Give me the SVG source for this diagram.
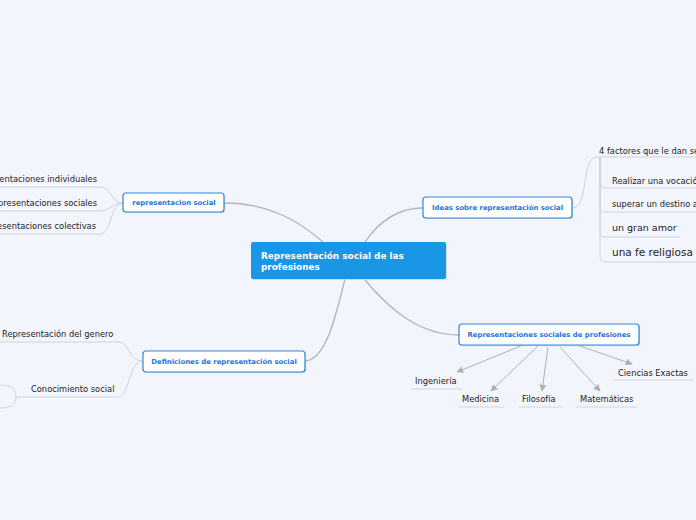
<svg xmlns="http://www.w3.org/2000/svg" width="696" height="520" viewBox="0 0 696 520">
<style>
.bg{fill:#f3f5fd}
.box{fill:#ffffff;stroke:#2f86e0;stroke-width:1.2}
.sh{fill:#9aa3b5;opacity:0.45}
.bt{font-family:"DejaVu Sans",Verdana,sans-serif;font-weight:bold;font-size:6.9px;fill:#1a74dc;text-anchor:middle}
.ct{font-family:"DejaVu Sans",Verdana,sans-serif;font-weight:bold;font-size:8.9px;fill:#ffffff}
.lt{font-family:"DejaVu Sans",Verdana,sans-serif;font-size:8.3px;fill:#222}
.ul{stroke:#d2d5de;stroke-width:1;fill:none}
.cn{stroke:#b3b3b3;stroke-width:1.3;fill:none}
.sc{stroke:#cfd2da;stroke-width:1;fill:none}
.ar{stroke:#b0b0b0;stroke-width:1;fill:none;marker-end:url(#ah)}
</style>
<defs>
<marker id="ah" viewBox="0 0 10 10" refX="9" refY="5" markerWidth="7" markerHeight="7" orient="auto" markerUnits="userSpaceOnUse">
<path d="M0,0 L10,5 L0,10 z" fill="#b0b0b0"/>
</marker>
</defs>
<rect class="bg" x="0" y="0" width="696" height="520"/>

<g id="connectors">
<path class="cn" d="M224,203 C270,203 300,222 323,242"/>
<path class="cn" d="M423,208 C400,208 380,220 365,242"/>
<path class="cn" d="M305,361 C325,360 335,320 345,279"/>
<path class="cn" d="M365,280 C390,310 420,335 459,335"/>
<path class="sc" d="M123,203 C110,203 112,187 100,187 L0,187"/>
<path class="sc" d="M123,203 C112,203 110,211 100,211 L0,211"/>
<path class="sc" d="M123,203 C110,203 112,234 100,234 L0,234"/>
<path class="sc" d="M143,361 C128,361 130,342 118,342 L0,342"/>
<path class="sc" d="M143,361 C128,361 130,397 118,397 L16,397"/>
<path class="sc" d="M16,397 C16,388 10,385 0,385"/>
<path class="sc" d="M16,397 C16,405 10,408 0,408"/>
<path class="sc" d="M572,208 C590,208 580,157 597,157 L696,157"/>
<path class="sc" d="M600,157 L600,182 C600,186 602,188 606,188 L696,188"/>
<path class="sc" d="M600,157 L600,207 C600,210 602,212 606,212 L696,212"/>
<path class="sc" d="M600,157 L600,232 C600,235 602,237 606,237 L680,237"/>
<path class="sc" d="M600,157 L600,256 C600,260 602,262 606,262 L696,262"/>
<path class="ar" d="M523,345 L457,372"/>
<path class="ar" d="M538,346 L491,391"/>
<path class="ar" d="M548,347 L542,391"/>
<path class="ar" d="M560,347 L600,391"/>
<path class="ar" d="M580,346 L632,364"/>
<path class="ul" d="M411,389 L462,389"/>
<path class="ul" d="M459,407 L504,407"/>
<path class="ul" d="M519,407 L562,407"/>
<path class="ul" d="M576,407 L636,407"/>
<path class="ul" d="M614,380 L693,380"/>
</g>

<g id="central">
<rect x="252" y="243" width="195" height="37" rx="2" fill="#c0c8d8" opacity="0.6"/>
<rect x="251" y="242" width="195" height="37" rx="2" fill="#1a96e6"/>
<text class="ct" x="261" y="259">Representación social de las</text>
<text class="ct" x="261" y="270">profesiones</text>
</g>

<g id="representacion-social">
<rect class="sh" x="124" y="194" width="101" height="19" rx="3"/>
<rect class="box" x="123" y="193" width="101" height="19" rx="3"/>
<text class="bt" x="174" y="205">representacion social</text>
</g>

<g id="ideas">
<rect class="sh" x="424" y="198" width="149" height="21" rx="3"/>
<rect class="box" x="423" y="197" width="149" height="21" rx="3"/>
<text class="bt" x="497.5" y="210">Ideas sobre representación social</text>
</g>

<g id="profesiones">
<rect class="sh" x="460" y="325" width="180" height="21" rx="3"/>
<rect class="box" x="459" y="324" width="180" height="21" rx="3"/>
<text class="bt" x="549" y="337">Representaciones sociales de profesiones</text>
</g>

<g id="definiciones">
<rect class="sh" x="144" y="352" width="162" height="21" rx="3"/>
<rect class="box" x="143" y="351" width="162" height="21" rx="3"/>
<text class="bt" x="224" y="364">Definiciones de representación social</text>
</g>

<g id="rep-individuales"><text class="lt" x="97" y="182" text-anchor="end">Representaciones individuales</text></g>
<g id="rep-sociales"><text class="lt" x="97" y="206" text-anchor="end">Representaciones sociales</text></g>
<g id="rep-colectivas"><text class="lt" x="96" y="229" text-anchor="end">Representaciones colectivas</text></g>

<g id="rep-genero"><text class="lt" x="2" y="337">Representación del genero</text></g>
<g id="conocimiento"><text class="lt" x="31" y="392">Conocimiento social</text></g>

<g id="factores"><text class="lt" x="599" y="154">4 factores que le dan sentido</text></g>
<g id="vocacion"><text class="lt" x="612" y="184">Realizar una vocación</text></g>
<g id="destino"><text class="lt" x="612" y="207">superar un destino adverso</text></g>
<g id="amor"><text class="lt" x="612" y="231" style="font-size:9.5px">un gran amor</text></g>
<g id="fe"><text class="lt" x="612" y="256" style="font-size:10.5px">una fe religiosa</text></g>

<g id="ingenieria"><text class="lt" x="415" y="384">Ingeniería</text></g>
<g id="medicina"><text class="lt" x="462" y="402">Medicina</text></g>
<g id="filosofia"><text class="lt" x="522" y="402">Filosofía</text></g>
<g id="matematicas"><text class="lt" x="580" y="402">Matemáticas</text></g>
<g id="ciencias"><text class="lt" x="618" y="376">Ciencias Exactas</text></g>
</svg>
